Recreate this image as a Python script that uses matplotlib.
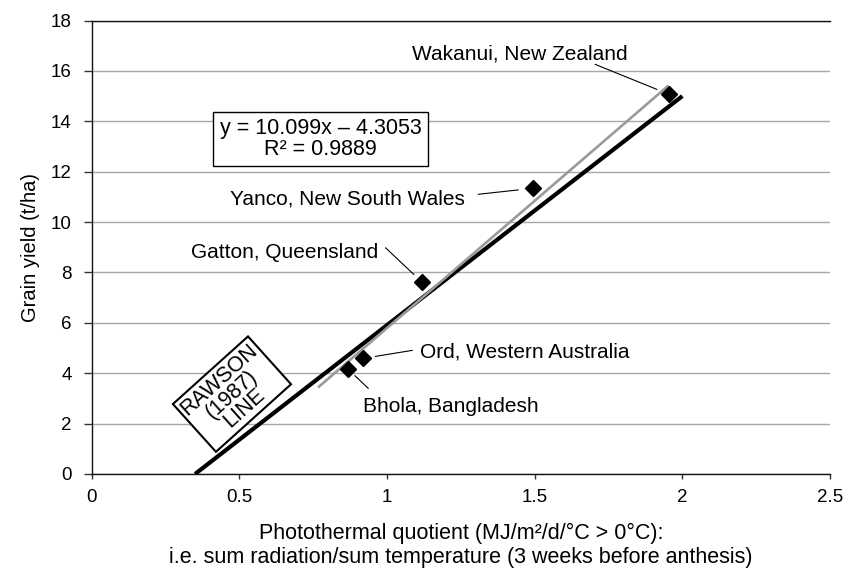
import matplotlib
matplotlib.use("Agg")
import matplotlib.pyplot as plt
import numpy as np

plt.rcParams["font.family"] = ["Liberation Sans", "DejaVu Sans"]

# Observed sites: photothermal quotient vs grain yield
sites = ["Bhola, Bangladesh", "Ord, Western Australia", "Gatton, Queensland",
         "Yanco, New South Wales", "Wakanui, New Zealand"]
ptq = [0.869, 0.920, 1.117, 1.495, 1.955]
yield_t = [4.15, 4.59, 7.63, 11.34, 15.07]

# Fitted regression (reported equation) and its drawn x-range
fit_slope = 10.099
fit_intercept = -4.3053
fit_r2 = 0.9889
fit_x = [0.77, 1.95]

# Rawson (1987) reference line end points
rawson_x = [0.35, 2.0]
rawson_y = [0.0, 15.0]

x_ticks = [0, 0.5, 1, 1.5, 2, 2.5]
x_tick_labels = ["0", "0.5", "1", "1.5", "2", "2.5"]
y_ticks = list(range(0, 19, 2))

W, H = 849, 569
fig = plt.figure(figsize=(W / 100, H / 100), dpi=100)
ax_left, ax_right, ax_top, ax_bottom = 91.7, 830, 20.5, 474
ax = fig.add_axes([ax_left / W, (H - ax_bottom) / H,
                   (ax_right - ax_left) / W, (ax_bottom - ax_top) / H])

ax.set_xlim(0, 2.5)
ax.set_ylim(0, 18)
ax.set_xticks(x_ticks)
ax.set_xticklabels(x_tick_labels)
ax.set_yticks(y_ticks)
ax.tick_params(axis="both", labelsize=13.5, direction="out", color="#333333", width=1.0)
ax.tick_params(axis="y", length=5.5, pad=9)
ax.tick_params(axis="x", length=3.6, pad=7)

ax.yaxis.grid(True, color="#a8a8a8", linewidth=1.0)
ax.set_axisbelow(True)
for side in ["left", "bottom", "top"]:
    ax.spines[side].set_color("#111111")
    ax.spines[side].set_linewidth(1.0)
ax.spines["right"].set_visible(False)

# Rawson line
ax.plot(rawson_x, rawson_y, color="black", linewidth=3.0, solid_capstyle="butt", zorder=3)

# Regression line
fx = np.array(fit_x)
ax.plot(fx, fit_slope * fx + fit_intercept, color="#9a9a9a", linewidth=1.9, zorder=4)

# Site markers
ax.plot(ptq, yield_t, linestyle="none", marker="D", markersize=8.3,
        color="black", zorder=5)

# Site labels with leader lines (offsets in pixels at 100 dpi; label y is baseline)
px = 0.72
label_offsets = [(102.5, -43), (161.5, 1), (-137, 24), (-185.5, -16), (-149.5, 35)]
leader_far = [(20, -19), (49, 8), (-36, 34), (-55, -6), (-74, 30)]
leader_gap = [9, 12, 10.5, 15, 13]
for name, xv, yv, lo, lf, gap in zip(sites, ptq, yield_t, label_offsets, leader_far, leader_gap):
    ax.annotate(name, xy=(xv, yv), xytext=(lo[0] * px, lo[1] * px),
                textcoords="offset points", ha="center", va="baseline", fontsize=15)
    ax.annotate("", xy=(xv, yv), xytext=(lf[0] * px, lf[1] * px),
                textcoords="offset points",
                arrowprops=dict(arrowstyle="-", color="black", linewidth=0.8,
                                shrinkA=0, shrinkB=gap * px))

# Regression equation box
ax.text(0.775, 13.3,
        f"y = {fit_slope:.3f}x \u2013 {abs(fit_intercept):.4f}\nR\u00b2 = {fit_r2:.4f}",
        ha="center", va="center", fontsize=15.5, linespacing=0.95, zorder=6,
        bbox=dict(boxstyle="square,pad=0.3", facecolor="white",
                  edgecolor="black", linewidth=1.0))

# Rawson line tag
ax.text(0.475, 3.17, "RAWSON\n(1987)\nLINE", rotation=42, rotation_mode="anchor",
        ha="center", va="center", fontsize=15.5, linespacing=0.88, zorder=6,
        bbox=dict(boxstyle="square,pad=0.12", facecolor="white",
                  edgecolor="black", linewidth=1.5))

# Axis titles
fig.text(31 / W, 1 - ((ax_top + ax_bottom) / 2) / H, "Grain yield (t/ha)",
         rotation=90, ha="center", va="center", fontsize=14.5)
x_mid = ((ax_left + ax_right) / 2) / W
fig.text(x_mid, 1 - 539 / H, "Photothermal quotient (MJ/m\u00b2/d/\u00b0C > 0\u00b0C):",
         ha="center", va="baseline", fontsize=15.5)
fig.text(x_mid, 1 - 563 / H,
         "i.e. sum radiation/sum temperature (3 weeks before anthesis)",
         ha="center", va="baseline", fontsize=15.5)

fig.savefig("out.png", dpi=100)
